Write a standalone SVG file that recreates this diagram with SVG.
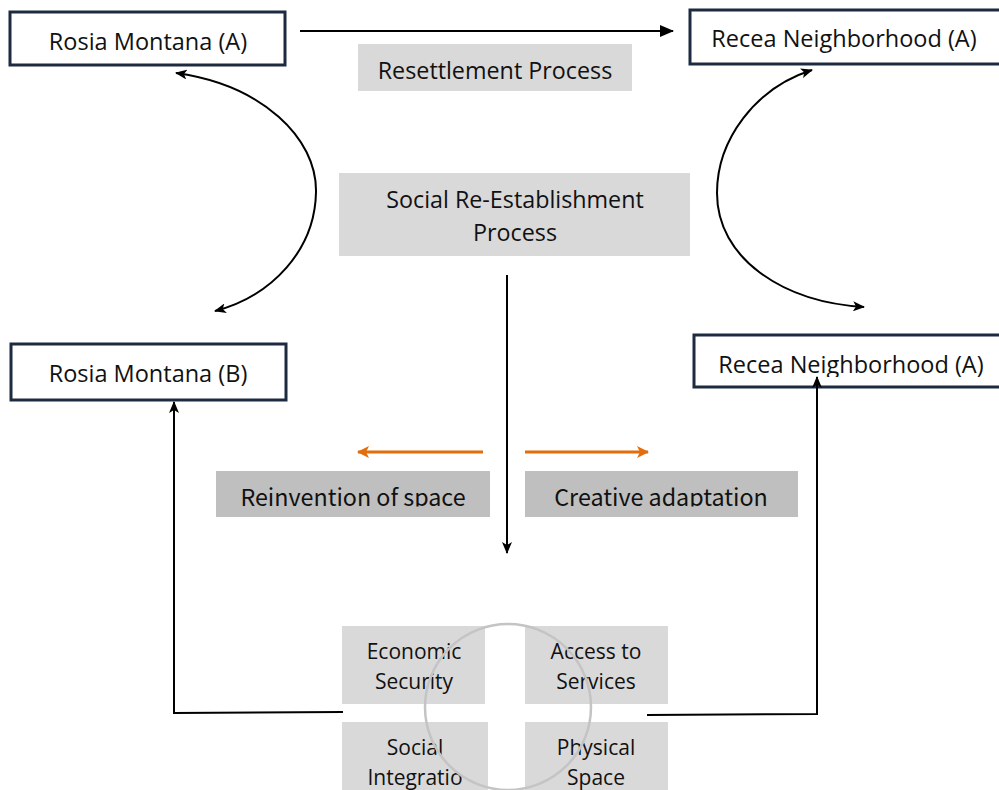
<svg xmlns="http://www.w3.org/2000/svg" width="999" height="790" viewBox="0 0 999 790">
<style>
.node{fill:#fff;stroke:#1c2b40;stroke-width:3}
.g1{fill:#d9d9d9}
.g2{fill:#bfbfbf}
.t{font-family:"Open Sans","Liberation Sans",sans-serif;fill:#111;text-anchor:middle}
.k{font-family:"Noto Sans CJK KR","Noto Sans",sans-serif;fill:#111;text-anchor:middle}
.ln{fill:none;stroke:#000;stroke-width:2}
.or{fill:none;stroke:#e46c0a;stroke-width:3}
</style>
<defs>
<marker id="ah" viewBox="0 0 12 10" refX="11" refY="5" markerWidth="12" markerHeight="10" markerUnits="userSpaceOnUse" orient="auto-start-reverse">
<path d="M0,0 L12,5 L0,10 L3,5 z" fill="#000"/>
</marker>
<marker id="ahs" viewBox="0 0 14 12" refX="13" refY="6" markerWidth="14" markerHeight="12" markerUnits="userSpaceOnUse" orient="auto">
<path d="M0,0 L14,6 L0,12 z" fill="#000"/>
</marker>
<marker id="ao" viewBox="0 0 12 12" refX="11" refY="6" markerWidth="12" markerHeight="12" markerUnits="userSpaceOnUse" orient="auto">
<path d="M0,0 L12,6 L0,12 L3,6 z" fill="#e46c0a"/>
</marker>
<clipPath id="c1"><rect x="0" y="0" width="999" height="377"/></clipPath>
<clipPath id="c2"><rect x="200" y="460" width="620" height="46.5"/></clipPath>
<clipPath id="c3"><rect x="342" y="722" width="121" height="68"/></clipPath>
</defs>

<g id="n-rosia-a">
<rect class="node" x="10" y="12" width="275" height="53"/>
<text class="t" x="148" y="50" font-size="23.5">Rosia Montana (A)</text>
</g>
<g id="n-recea-a-top">
<rect class="node" x="690" y="10" width="320" height="54"/>
<text class="t" x="844" y="47" font-size="23.5">Recea Neighborhood (A)</text>
</g>
<g id="n-rosia-b">
<rect class="node" x="11" y="344" width="275" height="56"/>
<text class="t" x="148" y="382" font-size="23.5">Rosia Montana (B)</text>
</g>
<g id="n-recea-a-low">
<rect class="node" x="694" y="335" width="320" height="52"/>
<text class="t" x="851" y="373" font-size="23.5" clip-path="url(#c1)">Recea Neighborhood (A)</text>
</g>
<g id="n-resettlement">
<rect class="g1" x="358" y="44" width="274" height="47"/>
<text class="t" x="495" y="79" font-size="23.3">Resettlement Process</text>
</g>
<g id="n-social-re">
<rect class="g1" x="339" y="173" width="351" height="83"/>
<text class="t" x="515" y="208" font-size="23.3">Social Re-Establishment</text>
<text class="t" x="515" y="241" font-size="23.3">Process</text>
</g>
<g id="n-reinvention">
<rect class="g2" x="216" y="471" width="274" height="46"/>
<text class="k" x="353" y="506" font-size="23.3" clip-path="url(#c2)">Reinvention of space</text>
</g>
<g id="n-creative">
<rect class="g2" x="525" y="471" width="273" height="46"/>
<text class="k" x="661" y="506" font-size="23.3" clip-path="url(#c2)">Creative adaptation</text>
</g>
<g id="n-quad">
<rect class="g1" x="342" y="626" width="143" height="78"/>
<rect class="g1" x="525" y="626" width="143" height="78"/>
<rect class="g1" x="342" y="722" width="146" height="68"/>
<rect class="g1" x="525" y="722" width="143" height="68"/>
<text class="t" x="414" y="659" font-size="21">Economic</text>
<text class="t" x="414" y="689" font-size="21">Security</text>
<text class="t" x="596" y="659" font-size="21">Access to</text>
<text class="t" x="596" y="689" font-size="21">Services</text>
<text class="t" x="415" y="755" font-size="21">Social</text>
<text class="t" x="415" y="785" font-size="21" clip-path="url(#c3)">Integratio</text>
<text class="t" x="596" y="755" font-size="21">Physical</text>
<text class="t" x="596" y="785" font-size="21">Space</text>
<circle cx="508" cy="707" r="83" fill="none" stroke="#c4c4c4" stroke-width="2.5"/>
</g>

<g id="connectors">
<line class="ln" x1="300" y1="31" x2="673" y2="31" marker-end="url(#ahs)"/>
<path class="ln" d="M176,73 C262,85 317,138 316,192 C315,250 272,296 215,311" marker-start="url(#ah)" marker-end="url(#ah)"/>
<path class="ln" d="M812,70 C755,88 717,140 717,193 C717,258 782,302 864,307" marker-start="url(#ah)" marker-end="url(#ah)"/>
<line class="ln" x1="507" y1="275" x2="507" y2="553" marker-end="url(#ah)"/>
<line class="or" x1="483" y1="452" x2="358" y2="452" marker-end="url(#ao)"/>
<line class="or" x1="525" y1="452" x2="648" y2="452" marker-end="url(#ao)"/>
<polyline class="ln" points="343,712 174,713 174,402" marker-end="url(#ah)"/>
<polyline class="ln" points="647,715 817,714 817,377" marker-end="url(#ah)"/>
</g>
</svg>
